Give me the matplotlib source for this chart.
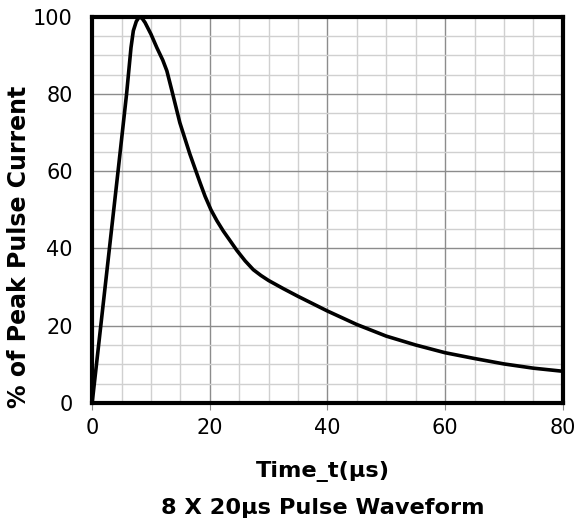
import matplotlib
matplotlib.use("Agg")
import matplotlib.pyplot as plt
from matplotlib.ticker import MultipleLocator

plt.rcParams['font.family'] = ['DejaVu Sans']

time_us = [0, 4.4, 5.85, 6.6, 7.0, 7.5, 8.0, 8.5, 9.0, 10, 11, 12, 12.7, 13.5, 14.9, 16.6, 18.35,
           19.2, 20.2, 21.2, 22.3, 23.5, 24.6, 26, 27.4, 28.7, 30, 32.5, 35, 37.5, 40, 45, 50, 55, 60,
           65, 70, 75, 80]
pct_peak = [0, 60, 80, 92, 96.4, 98.8, 100, 99.6, 98.5, 95.5, 92, 88.8, 86, 81.2, 72.6, 64.5, 57,
            53.5, 50, 47.2, 44.5, 41.9, 39.5, 36.8, 34.5, 33, 31.7, 29.6, 27.6, 25.7, 23.8, 20.3, 17.3,
            15, 13, 11.5, 10.1, 9, 8.2]
x_ticks = [0, 20, 40, 60, 80]
y_ticks = [0, 20, 40, 60, 80, 100]

fig = plt.figure(figsize=(5.76, 5.26), dpi=100)
ax = fig.add_axes([0.16, 0.234, 0.817, 0.734])

ax.plot(time_us, pct_peak, color='black', lw=2.6, solid_joinstyle='round',
        solid_capstyle='round', zorder=3)

ax.set_xlim(0, 80)
ax.set_ylim(0, 100)
ax.set_xticks(x_ticks)
ax.set_yticks(y_ticks)
ax.xaxis.set_minor_locator(MultipleLocator(5))
ax.yaxis.set_minor_locator(MultipleLocator(5))
ax.grid(which='major', color='#8c8c8c', lw=1.0, zorder=0)
ax.grid(which='minor', color='#d0d0d0', lw=1.0, zorder=0)
ax.tick_params(axis='x', which='major', length=5, color='#8c8c8c', labelsize=15, pad=6)
ax.tick_params(axis='y', which='major', length=0, labelsize=15, pad=14)
ax.tick_params(which='minor', length=0)
for s in ax.spines.values():
    s.set_linewidth(3)
    s.set_color('black')

ax.set_ylabel('% of Peak Pulse Current', fontsize=17, fontweight='bold')
ax.yaxis.set_label_coords(-0.13, 0.405)
fig.text(0.561, 0.103, 'Time_t(μs)', ha='center', va='center', fontsize=16.2, fontweight='bold')
fig.text(0.561, 0.034, '8 X 20μs Pulse Waveform', ha='center', va='center', fontsize=16.2, fontweight='bold')

fig.savefig('out.png', dpi=100)
